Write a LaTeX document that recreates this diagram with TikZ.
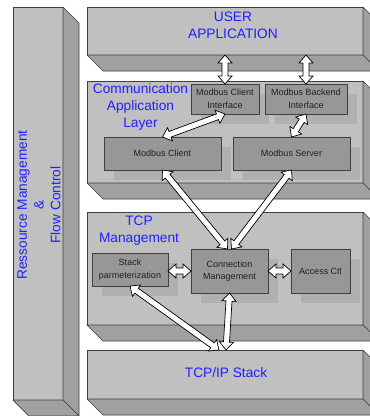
\documentclass[tikz,border=0pt]{standalone}
\usepackage{fontspec}
\setmainfont{Liberation Sans}
\usetikzlibrary{calc,shadows}
\definecolor{frontc}{HTML}{C0C0C0}
\definecolor{facec}{HTML}{A0A0A0}
\definecolor{innerc}{HTML}{979797}
\definecolor{shadec}{HTML}{B0B0B0}
\definecolor{edgec}{HTML}{404040}
\definecolor{lblc}{HTML}{2020FF}
\definecolor{txtc}{HTML}{202020}
\newcommand\blockarrow[2]{%
  \coordinate (ba1) at (#1);
  \coordinate (ba2) at (#2);
  \coordinate (bb1) at ($(ba1)!8pt!(ba2)$);
  \coordinate (bb2) at ($(ba2)!8pt!(ba1)$);
  \draw[arrowline] (ba1) -- ($(bb1)!7pt!90:(ba2)$) -- ($(bb1)!3pt!90:(ba2)$)
    -- ($(bb2)!3pt!-90:(ba1)$) -- ($(bb2)!7pt!-90:(ba1)$) -- (ba2)
    -- ($(bb2)!7pt!90:(ba1)$) -- ($(bb2)!3pt!90:(ba1)$)
    -- ($(bb1)!3pt!-90:(ba2)$) -- ($(bb1)!7pt!-90:(ba2)$) -- cycle;}
\newcommand\slab[1]{%
  \draw[facestyle] (#1.north east) -- ++(16,16) -- ($(#1.south east)+(16,16)$) -- (#1.south east) -- cycle;
  \draw[facestyle] (#1.south west) -- (#1.south east) -- ++(16,16) -- ($(#1.south west)+(16,16)$) -- cycle;}
\begin{document}
\begin{tikzpicture}[x=1pt,y=-1pt,
  frontbox/.style={draw=edgec, fill=frontc, line width=0.7pt, inner sep=0pt, outer sep=0pt},
  facestyle/.style={draw=edgec, fill=facec, line width=0.7pt, line join=round},
  innerbox/.style={draw=edgec, fill=innerc, line width=0.8pt, inner sep=0pt, outer sep=0pt,
    align=center, text=txtc, font=\fontsize{9}{12.5}\selectfont,
    drop shadow={shadow xshift=10pt, shadow yshift=-10pt, fill=shadec, opacity=1, draw=none}},
  bluelbl/.style={text=lblc, align=center, font=\fontsize{13.7}{16.8}\selectfont, inner sep=0pt},
  arrowline/.style={draw=black, fill=white, line width=0.7pt, line join=miter}]
\useasboundingbox (0,0) rectangle (370,416);
\clip (0,0) rectangle (370,416);
\fill[white] (0,0) rectangle (370,416);
% big slabs
\node[frontbox, minimum width=50pt, minimum height=393pt] (rm) at (38,203.5) {};
\node[frontbox, minimum width=276pt, minimum height=48pt] (ua) at (225,31) {};
\node[frontbox, minimum width=276pt, minimum height=102pt] (cal) at (225,132) {};
\node[frontbox, minimum width=276pt, minimum height=113pt] (tm) at (225,268.5) {};
\node[frontbox, minimum width=276pt, minimum height=49pt] (tcp) at (225,374.5) {};
\slab{rm}
\slab{ua}
\slab{cal}
\slab{tm}
\slab{tcp}
% labels
\node[bluelbl, rotate=90] (rmt) at (39,205) {Ressource Management\\\&\\Flow Control};
\node[bluelbl] (uat) at (233,25.5) {USER\\APPLICATION};
\node[bluelbl] (calt) at (140.5,107) {Communication\\Application\\Layer};
\node[bluelbl] (tmt) at (139,230.5) {TCP\\Management};
\node[bluelbl] (tcpt) at (226,373) {TCP/IP Stack};
% inner boxes
\node[innerbox, minimum width=68pt, minimum height=30pt] (mci) at (225,99) {Modbus Client\\Interface};
\node[innerbox, minimum width=82pt, minimum height=30pt] (mbi) at (306,99) {Modbus Backend\\Interface};
\node[innerbox, minimum width=117pt, minimum height=33pt] (mc) at (162.5,153.5) {Modbus Client};
\node[innerbox, minimum width=117pt, minimum height=33pt] (ms) at (291.5,153.5) {Modbus Server};
\node[innerbox, minimum width=76pt, minimum height=33pt] (sp) at (130,269.5) {Stack\\parmeterization};
\node[innerbox, minimum width=77pt, minimum height=44pt] (cm) at (229.5,271) {Connection\\Management};
\node[innerbox, minimum width=59pt, minimum height=44pt] (ac) at (320.5,271) {Access Ctl};
% arrows
\blockarrow{ua.south -| mci.north}{mci.north}
\blockarrow{ua.south -| mbi.north}{mbi.north}
\blockarrow{mci.south}{mc.north}
\blockarrow{mbi.south}{ms.north}
\blockarrow{mc.south}{$(cm.north)+(-2,0)$}
\blockarrow{ms.south}{$(cm.north)+(2,0)$}
\blockarrow{cm.west -| sp.east}{cm.west}
\blockarrow{cm.east}{ac.west}
\blockarrow{cm.south}{$(tcp.north)+(1,0)$}
\blockarrow{sp.south}{$(tcp.north)+(-6,0)$}
\end{tikzpicture}
\end{document}
